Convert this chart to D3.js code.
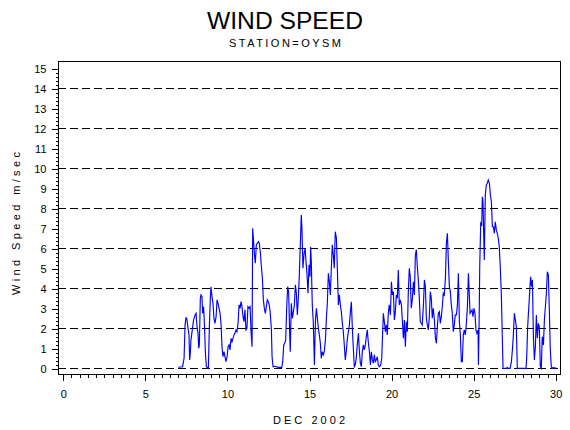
<!DOCTYPE html>
<html>
<head>
<meta charset="utf-8">
<script src="https://cdn.jsdelivr.net/npm/d3@7"></script>
<style>
  body { margin: 0; background: #fff; }
  svg text { font-family: "Liberation Sans", Arial, sans-serif; fill: #000; }
</style>
</head>
<body>
<svg id="canvas"></svg>
<script>
/* Chart text */
const titleText = "WIND SPEED";
const subtitleText = "STATION=OYSM";
const xLabel = "DEC 2002";
const yLabel = "Wind Speed m/sec";

/* Tick values */
const xTicks = [0, 5, 10, 15, 20, 25, 30];
const yTicks = [0, 1, 2, 3, 4, 5, 6, 7, 8, 9, 10, 11, 12, 13, 14, 15];
const gridLevels = [0, 2, 4, 6, 8, 10, 12, 14];

/* Observations: day of month, wind speed (m/sec) */
const obsDay = [
  7.04, 7.30, 7.39, 7.45, 7.51, 7.57, 7.63, 7.69, 7.73, 7.77,
  7.81, 7.89, 7.97, 8.06, 8.12, 8.18, 8.24, 8.28, 8.32, 8.38,
  8.42, 8.48, 8.52, 8.58, 8.64, 8.69, 8.75, 8.87, 8.93, 8.99,
  9.03, 9.09, 9.15, 9.21, 9.27, 9.34, 9.40, 9.46, 9.52, 9.58,
  9.64, 9.70, 9.76, 9.82, 9.88, 9.94, 10.01, 10.07, 10.13, 10.19,
  10.25, 10.31, 10.37, 10.43, 10.49, 10.55, 10.61, 10.68, 10.74, 10.80,
  10.86, 10.92, 10.98, 11.04, 11.10, 11.16, 11.22, 11.28, 11.35, 11.41,
  11.47, 11.53, 11.57, 11.61, 11.67, 11.73, 11.79, 11.85, 11.91, 11.97,
  12.04, 12.10, 12.16, 12.22, 12.28, 12.34, 12.40, 12.46, 12.52, 12.58,
  12.64, 12.71, 12.75, 12.81, 12.93, 13.13, 13.34, 13.40, 13.46, 13.52,
  13.58, 13.64, 13.70, 13.76, 13.82, 13.86, 13.92, 13.99, 14.05, 14.11,
  14.17, 14.23, 14.29, 14.35, 14.41, 14.47, 14.53, 14.57, 14.63, 14.70,
  14.76, 14.82, 14.88, 14.94, 15.00, 15.06, 15.10, 15.14, 15.20, 15.26,
  15.33, 15.39, 15.45, 15.51, 15.57, 15.63, 15.69, 15.75, 15.81, 15.87,
  15.93, 16.00, 16.06, 16.12, 16.18, 16.24, 16.30, 16.36, 16.42, 16.48,
  16.54, 16.60, 16.67, 16.73, 16.79, 16.85, 16.91, 16.97, 17.03, 17.09,
  17.15, 17.21, 17.27, 17.34, 17.40, 17.46, 17.52, 17.58, 17.64, 17.70,
  17.76, 17.82, 17.88, 17.94, 18.01, 18.07, 18.13, 18.19, 18.25, 18.31,
  18.37, 18.43, 18.49, 18.55, 18.61, 18.68, 18.74, 18.80, 18.86, 18.92,
  18.98, 19.04, 19.10, 19.16, 19.22, 19.28, 19.37, 19.43, 19.47, 19.53,
  19.59, 19.65, 19.71, 19.77, 19.83, 19.89, 19.96, 20.02, 20.08, 20.14,
  20.20, 20.26, 20.32, 20.38, 20.44, 20.50, 20.56, 20.63, 20.69, 20.75,
  20.81, 20.87, 20.93, 20.99, 21.05, 21.11, 21.17, 21.23, 21.30, 21.36,
  21.42, 21.48, 21.54, 21.60, 21.66, 21.72, 21.78, 21.84, 21.90, 21.97,
  22.03, 22.09, 22.15, 22.21, 22.27, 22.33, 22.39, 22.45, 22.51, 22.57,
  22.64, 22.70, 22.76, 22.82, 22.88, 22.94, 23.00, 23.06, 23.12, 23.18,
  23.24, 23.31, 23.37, 23.43, 23.49, 23.55, 23.61, 23.67, 23.73, 23.79,
  23.85, 23.91, 23.98, 24.04, 24.10, 24.16, 24.22, 24.28, 24.34, 24.40,
  24.46, 24.52, 24.58, 24.65, 24.71, 24.77, 24.81, 24.87, 24.93, 24.99,
  25.05, 25.11, 25.17, 25.23, 25.30, 25.32, 25.36, 25.40, 25.46, 25.52,
  25.56, 25.60, 25.64, 25.68, 25.74, 25.80, 25.86, 25.92, 25.99, 26.05,
  26.11, 26.17, 26.23, 26.29, 26.35, 26.41, 26.47, 26.53, 26.59, 26.66,
  26.72, 26.78, 26.82, 27.04, 27.08, 27.14, 27.25, 27.33, 27.39, 27.45,
  27.51, 27.57, 27.63, 27.69, 28.22, 28.26, 28.32, 28.38, 28.44, 28.50,
  28.56, 28.61, 28.67, 28.73, 28.79, 28.85, 28.91, 28.97, 29.03, 29.09,
  29.15, 29.21, 29.28, 29.34, 29.40, 29.46, 29.52, 29.58, 29.64, 29.70,
  29.76, 29.82, 29.88, 30.09
];
const obsSpeed = [
  0.05, 0.08, 0.5, 2.17, 2.55, 2.42, 2.0, 1.67, 0.42, 0.75,
  1.42, 1.92, 2.42, 2.67, 2.75, 2.08, 1.75, 1.0, 1.17, 3.5,
  3.67, 3.58, 2.75, 3.08, 2.0, 0.75, 0.08, 0, 2.08, 3.5,
  4.08, 3.58, 3.25, 2.5, 2.25, 2.58, 3.42, 3.25, 3.0, 2.75,
  2.25, 1.08, 0.58, 0.83, 0.58, 0.33, 0.58, 1.08, 1.17, 0.92,
  1.5, 1.33, 1.5, 1.67, 1.75, 1.92, 1.83, 2.25, 3.17, 3.0,
  3.33, 3.08, 2.58, 2.33, 2.92, 1.92, 2.0, 3.08, 3.0, 3.08,
  1.83, 1.08, 7.0, 6.5, 5.75, 5.25, 6.17, 6.25, 6.33, 6.25,
  5.75, 5.08, 4.5, 3.42, 3.0, 2.75, 3.08, 3.42, 3.33, 3.17,
  2.75, 1.92, 0.58, 0.08, 0.1, 0.05, 0.05, 0.33, 1.17, 1.25,
  1.42, 3.0, 4.08, 3.83, 1.83, 0.83, 3.25, 2.5, 2.83, 3.17,
  4.17, 3.75, 2.67, 3.5, 4.67, 6.17, 7.67, 7.0, 5.0, 5.75,
  6.0, 5.33, 4.67, 3.75, 5.17, 4.58, 6.08, 5.33, 3.17, 2.33,
  0.17, 2.33, 3.0, 2.5, 2.0, 1.67, 1.25, 0.5, 0.83, 0.67,
  0.83, 1.42, 2.5, 3.33, 4.75, 4.33, 3.67, 5.0, 6.17, 5.67,
  5.0, 6.83, 6.5, 4.92, 3.17, 3.67, 3.17, 2.83, 2.25, 1.83,
  1.17, 0.42, 0.83, 1.5, 1.83, 2.17, 2.83, 3.33, 2.0, 1.0,
  0.08, 0.17, 0.5, 1.17, 1.75, 0.83, 0.25, 0.08, 0.83, 1.17,
  0.92, 1.17, 1.58, 1.92, 1.33, 0.83, 0.17, 0.83, 0.42, 0.25,
  0.67, 0.33, 0.42, 0.58, 0.17, 0.08, 0.17, 0.5, 1.42, 2.75,
  2.33, 1.83, 2.17, 1.67, 2.75, 3.17, 2.67, 4.33, 3.67, 3.83,
  2.42, 2.83, 3.67, 3.5, 4.92, 3.17, 3.42, 3.17, 2.33, 1.5,
  2.42, 1.08, 2.33, 1.83, 3.83, 5.0, 4.58, 3.0, 3.5, 4.33,
  3.67, 5.67, 5.92, 5.08, 4.42, 3.5, 2.33, 2.25, 2.17, 3.17,
  4.42, 4.08, 2.5, 2.17, 1.92, 2.58, 3.83, 3.5, 2.5, 3.0,
  2.42, 1.5, 1.25, 2.08, 2.75, 2.83, 2.25, 2.58, 3.08, 3.75,
  3.67, 4.5, 6.25, 6.75, 5.33, 4.08, 3.83, 3.17, 2.75, 1.83,
  2.17, 2.67, 2.67, 3.17, 4.75, 2.33, 1.67, 0.33, 0.33, 1.67,
  1.92, 1.67, 2.17, 3.08, 4.75, 3.58, 2.75, 2.83, 2.92, 2.58,
  3.0, 2.75, 1.92, 1.75, 1.92, 0.17, 2.08, 5.08, 7.25, 7.17,
  8.58, 8.33, 6.75, 5.42, 8.67, 9.17, 9.25, 9.42, 9.25, 8.67,
  8.33, 7.08, 7.08, 6.75, 7.33, 6.92, 6.75, 6.5, 6.08, 4.92,
  3.58, 1.42, 0, 0, 0.05, 0, 0, 0.33, 0.92, 1.67,
  2.75, 2.42, 2.08, 0, 0, 0.5, 2.08, 2.92, 3.75, 4.58,
  4.08, 4.42, 1.58, 0.42, 1.08, 2.67, 1.5, 2.25, 2.08, 0.08,
  0, 1.58, 1.17, 2.42, 3.08, 3.75, 4.83, 4.67, 2.92, 0.92,
  0.08, 0, 0.03, 0
];

const width = 570;
const height = 430;
const frame = { left: 58, right: 560, top: 61, bottom: 374 };

const svg = d3.select("#canvas")
    .attr("width", width)
    .attr("height", height);

/* Scales */
const x = d3.scaleLinear().domain([-0.29, 30.29]).range([frame.left, frame.right]);
const y = d3.scaleLinear().domain([-0.285, 15.365]).range([frame.bottom, frame.top]);

/* Titles */
svg.append("text")
    .attr("x", 285).attr("y", 29)
    .attr("text-anchor", "middle")
    .attr("font-size", 24)
    .attr("textLength", 156)
    .attr("lengthAdjust", "spacingAndGlyphs")
    .text(titleText);

svg.append("text")
    .attr("x", 285).attr("y", 47)
    .attr("text-anchor", "middle")
    .attr("font-size", 11)
    .attr("textLength", 112)
    .attr("lengthAdjust", "spacing")
    .text(subtitleText);

/* Dashed reference lines */
svg.append("g")
    .selectAll("line")
    .data(gridLevels)
    .enter()
    .append("line")
    .attr("x1", frame.left)
    .attr("x2", frame.right)
    .attr("y1", d => Math.round(y(d)) + 0.5)
    .attr("y2", d => Math.round(y(d)) + 0.5)
    .attr("stroke", "#000")
    .attr("stroke-dasharray", "8,4");

/* Wind speed trace */
const points = obsDay.map((d, i) => [d, obsSpeed[i]]);
svg.append("path")
    .datum(points)
    .attr("fill", "none")
    .attr("stroke", "#0000ff")
    .attr("stroke-width", 1.15)
    .attr("d", d3.line().x(d => x(d[0])).y(d => y(d[1])));

/* Frame */
svg.append("rect")
    .attr("x", frame.left + 0.5)
    .attr("y", frame.top + 0.5)
    .attr("width", frame.right - frame.left)
    .attr("height", frame.bottom - frame.top)
    .attr("fill", "none")
    .attr("stroke", "#000");

/* X axis: minor ticks every half day, major every 5 */
const xMinor = svg.append("g")
    .attr("transform", `translate(0.5,${frame.bottom + 0.5})`)
    .call(d3.axisBottom(x).tickValues(d3.range(0, 30.01, 0.5)).tickSize(3).tickFormat(""));
xMinor.select(".domain").remove();

const xMajor = svg.append("g")
    .attr("transform", `translate(0.5,${frame.bottom + 0.5})`)
    .call(d3.axisBottom(x).tickValues(xTicks).tickSize(6));
xMajor.select(".domain").remove();
xMajor.selectAll("text")
    .attr("y", 23.5)
    .attr("dy", null)
    .attr("font-size", 11)
    .attr("font-family", "Liberation Sans, Arial, sans-serif");

/* Y axis: minor ticks every 0.2, major every 1 */
const yMinor = svg.append("g")
    .attr("transform", `translate(${frame.left + 0.5},0.5)`)
    .call(d3.axisLeft(y).tickValues(d3.range(0, 15.01, 0.2)).tickSize(3).tickFormat(""));
yMinor.select(".domain").remove();

const yMajor = svg.append("g")
    .attr("transform", `translate(${frame.left + 0.5},0.5)`)
    .call(d3.axisLeft(y).tickValues(yTicks).tickSize(7).tickPadding(5));
yMajor.select(".domain").remove();
yMajor.selectAll("text")
    .attr("font-size", 11)
    .attr("font-family", "Liberation Sans, Arial, sans-serif");

svg.selectAll(".tick line").attr("shape-rendering", "crispEdges");

/* Axis labels */
svg.append("text")
    .attr("x", (frame.left + frame.right) / 2)
    .attr("y", 424)
    .attr("text-anchor", "middle")
    .attr("font-size", 11)
    .attr("textLength", 72)
    .attr("lengthAdjust", "spacing")
    .text(xLabel);

svg.append("text")
    .attr("transform", "translate(20,223.5) rotate(-90)")
    .attr("text-anchor", "middle")
    .attr("font-size", 11)
    .attr("textLength", 143)
    .attr("lengthAdjust", "spacing")
    .text(yLabel);
</script>
</body>
</html>
